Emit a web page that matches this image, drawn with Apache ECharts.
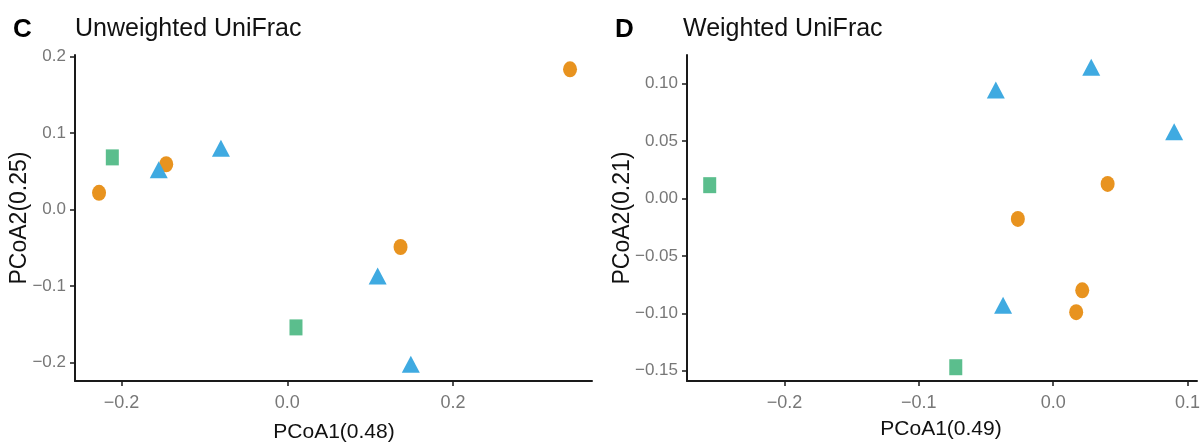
<!DOCTYPE html>
<html>
<head>
<meta charset="utf-8">
<script src="https://cdn.jsdelivr.net/npm/echarts@6/dist/echarts.min.js"></script>
<style>
html,body{margin:0;padding:0;background:#fff;}
#chart{width:1204px;height:445px;}
</style>
</head>
<body>
<div id="chart"></div>
<script>
// ---- Panel C: Unweighted UniFrac ----
var orangeC = [[-0.227, 0.0217], [-0.146, 0.059], [0.1366, -0.049], [0.341, 0.183]];
var blueC   = [[-0.155, 0.052], [-0.080, 0.080], [0.109, -0.0868], [0.149, -0.2022]];
var greenC  = [[-0.211, 0.068], [0.0105, -0.154]];
var xTicksC = [-0.2, 0.0, 0.2];
var yTicksC = [-0.2, -0.1, 0.0, 0.1, 0.2];

// ---- Panel D: Weighted UniFrac ----
var orangeD = [[0.0405, 0.0127], [-0.0263, -0.0178], [0.0216, -0.080], [0.0171, -0.099]];
var blueD   = [[-0.0427, 0.0945], [0.0283, 0.1143], [0.090, 0.0582], [-0.0373, -0.093]];
var greenD  = [[-0.2556, 0.0116], [-0.0725, -0.147]];
var xTicksD = [-0.2, -0.1, 0.0, 0.1];
var yTicksD = [-0.15, -0.10, -0.05, 0.00, 0.05, 0.10];

var titles = ['Unweighted UniFrac', 'Weighted UniFrac'];
var panelLetters = ['C', 'D'];
var xNames = ['PCoA1(0.48)', 'PCoA1(0.49)'];
var yNames = ['PCoA2(0.25)', 'PCoA2(0.21)'];

var COL_OR = '#E8931F', COL_BL = '#3FAAE1', COL_GR = '#5BBE8D';
var FONT = '"Liberation Sans", Arial, sans-serif';

function fmt(dec) {
  return function (v) {
    var s = Math.abs(v).toFixed(dec);
    return (v < -1e-9 ? '\u2212' : '') + s;
  };
}

function makeX(idx, min, max, ticks, dec) {
  return {
    type: 'value', gridIndex: idx, min: min, max: max,
    splitLine: { show: false },
    axisLine: { show: true, onZero: false, lineStyle: { color: '#1a1a1a', width: 2 } },
    axisTick: { show: true, length: 5, customValues: ticks, lineStyle: { color: '#1a1a1a', width: 1.5 } },
    axisLabel: { customValues: ticks, formatter: fmt(dec), color: '#777', fontSize: 18, fontFamily: FONT, margin: 13 }
  };
}
function makeY(idx, min, max, ticks, dec) {
  return {
    type: 'value', gridIndex: idx, min: min, max: max,
    splitLine: { show: false },
    axisLine: { show: true, onZero: false, lineStyle: { color: '#1a1a1a', width: 2 } },
    axisTick: { show: true, length: 5, customValues: ticks, lineStyle: { color: '#1a1a1a', width: 1.5 } },
    axisLabel: { customValues: ticks, formatter: fmt(dec), color: '#777', fontSize: 17, fontFamily: FONT, margin: 9 }
  };
}
function sc(idx, data, color, symbol, size) {
  return {
    type: 'scatter', xAxisIndex: idx, yAxisIndex: idx, data: data,
    symbol: symbol, symbolSize: size,
    itemStyle: { color: color, opacity: 1 },
    silent: true
  };
}

var chart = echarts.init(document.getElementById('chart'), null, { renderer: 'canvas' });
chart.setOption({
  backgroundColor: '#fff',
  animation: false,
  grid: [
    { left: 75, top: 55, width: 517, height: 326 },
    { left: 687, top: 55, width: 510, height: 326 }
  ],
  xAxis: [
    makeX(0, -0.256, 0.3675, xTicksC, 1),
    makeX(1, -0.2725, 0.107, xTicksD, 1)
  ],
  yAxis: [
    makeY(0, -0.224, 0.2017, yTicksC, 1),
    makeY(1, -0.159, 0.125, yTicksD, 2)
  ],
  series: [
    sc(0, greenC, COL_GR, 'rect', [13, 16]),
    sc(0, orangeC, COL_OR, 'circle', [14, 16]),
    sc(0, blueC, COL_BL, 'triangle', [18, 17]),
    sc(1, greenD, COL_GR, 'rect', [13, 16]),
    sc(1, orangeD, COL_OR, 'circle', [14, 16]),
    sc(1, blueD, COL_BL, 'triangle', [18, 17])
  ],
  graphic: [
    { type: 'text', x: 13, y: 30, style: { text: panelLetters[0], font: 'bold 26px ' + FONT, fill: '#000', verticalAlign: 'middle' } },
    { type: 'text', x: 75, y: 29, style: { text: titles[0], font: '25px ' + FONT, fill: '#111', verticalAlign: 'middle' } },
    { type: 'text', x: 615, y: 30, style: { text: panelLetters[1], font: 'bold 26px ' + FONT, fill: '#000', verticalAlign: 'middle' } },
    { type: 'text', x: 683, y: 29, style: { text: titles[1], font: '25px ' + FONT, fill: '#111', verticalAlign: 'middle' } },
    { type: 'text', x: 334, y: 432, style: { text: xNames[0], font: '21px ' + FONT, fill: '#111', align: 'center', verticalAlign: 'middle' } },
    { type: 'text', x: 941, y: 429, style: { text: xNames[1], font: '21px ' + FONT, fill: '#111', align: 'center', verticalAlign: 'middle' } },
    { type: 'text', x: 20, y: 218, rotation: Math.PI / 2, style: { text: yNames[0], font: '23px ' + FONT, fill: '#111', align: 'center', verticalAlign: 'middle' } },
    { type: 'text', x: 623, y: 218, rotation: Math.PI / 2, style: { text: yNames[1], font: '23px ' + FONT, fill: '#111', align: 'center', verticalAlign: 'middle' } }
  ]
});
</script>
</body>
</html>
